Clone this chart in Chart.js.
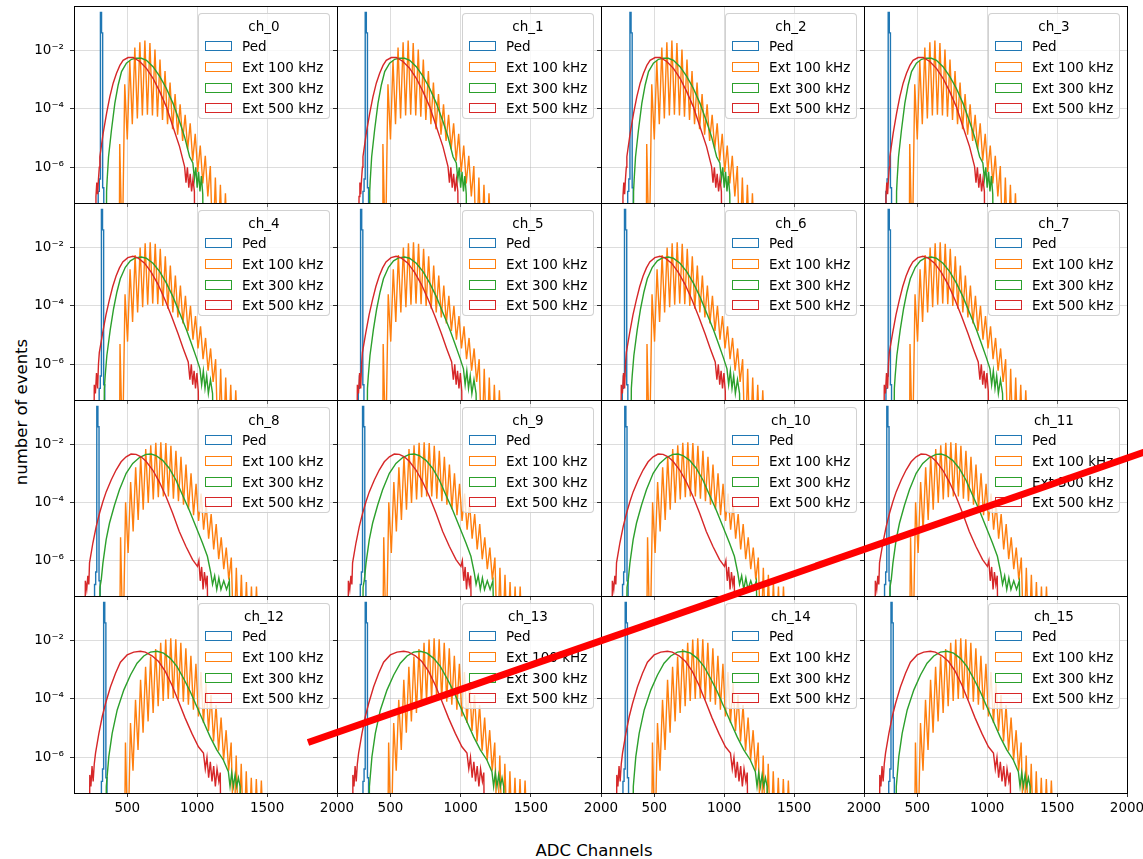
<!DOCTYPE html>
<html>
<head>
<meta charset="utf-8">
<title>ADC spectra per channel</title>
<script src="https://cdn.jsdelivr.net/npm/chart.js@4.4.1/dist/chart.umd.min.js"></script>
<style>
  body { margin: 0; background: #fff; }
  #figure { position: relative; width: 1143px; height: 859px; overflow: hidden; font-family: 'DejaVu Sans', sans-serif; color: #000; }
  #figure canvas { position: absolute; }
  .legend { position: absolute; width: 132px; height: 106px; box-sizing: border-box; border: 1px solid rgba(204,204,204,0.9); border-radius: 4px; background: rgba(255,255,255,0.8); font-size: 13.5px; }
  .legend .title { position: absolute; left: 0; right: 0; top: 4px; line-height: 16px; text-align: center; }
  .legend .item { position: absolute; left: 6px; height: 16px; display: flex; align-items: center; white-space: nowrap; }
  .legend .patch { width: 27px; height: 10px; box-sizing: border-box; border: 1.4px solid; margin-right: 10px; }
  .axis-label { position: absolute; font-size: 16.5px; white-space: nowrap; transform: translate(-50%, -50%); }
  #strike { position: absolute; left: 308px; top: 738.5px; width: 900px; height: 7px; background: #ff0000; transform-origin: 0 50%; transform: rotate(-19.15deg); z-index: 10; }
</style>
</head>
<body>
<div id="figure">
  <div class="axis-label" style="left:594px; top:850px;">ADC Channels</div>
  <div class="axis-label" style="left:21px; top:412px; transform: translate(-50%,-50%) rotate(-90deg);">number of events</div>
</div>
<script>
// axes
const xMin = 119, xMax = 2000;
const yMin = 6.0e-8, yMax = 0.334;
const xTicks = [500, 1000, 1500, 2000];
const yTicks = [1e-6, 1e-4, 1e-2];
const yTickLabels = ['10⁻⁶', '10⁻⁴', '10⁻²'];

const channels = ['ch_0', 'ch_1', 'ch_2', 'ch_3', 'ch_4', 'ch_5', 'ch_6', 'ch_7',
                  'ch_8', 'ch_9', 'ch_10', 'ch_11', 'ch_12', 'ch_13', 'ch_14', 'ch_15'];
const seriesNames = ['Ped', 'Ext 100 kHz', 'Ext 300 kHz', 'Ext 500 kHz'];

// pedestal: first bin of the peak per channel, and bin contents around it
const pedStart = [316, 328, 334, 300, 323, 295, 295, 300, 290, 309, 297, 290, 339, 328, 300, 320];
const pedShape = [[-24, 1e-12], [-16, 1.5e-7], [-8, 4e-7], [0, 0.2], [8, 0.04], [16, 2e-7], [24, 1e-12]];

// Ext 500 kHz, one array per row of the grid [ADC, fraction]
const redRow1 = [[270,1e-12],[276,1e-7],[282,3e-7],[288,1.2e-7],[294,4e-7],[300,1e-6],[304,2.3e-6],[328,1.5e-5],[352,7e-5],[375,2.6e-4],[399,7.6e-4],[423,1.66e-3],[447,3.1e-3],[470,4.6e-3],[506,5.75e-3],[542,5.75e-3],[589,4.2e-3],[637,2.45e-3],[684,1.12e-3],[732,3.9e-4],[779,1.2e-4],[827,2.45e-5],[874,5.1e-6],[910,1.05e-6],[920,3e-7],[930,1e-6],[940,2e-7],[950,6e-7],[960,1.5e-7],[970,4e-7],[980,1.5e-7],[988,1e-12]];
const redRow2 = [[258,1e-12],[264,2e-7],[272,1e-7],[280,5e-7],[288,1.5e-7],[294,1e-6],[300,2.5e-6],[324,1.2e-5],[348,5e-5],[372,1.6e-4],[396,4.6e-4],[420,1.05e-3],[444,2e-3],[468,3.2e-3],[504,4.5e-3],[540,5e-3],[576,4.4e-3],[624,2.9e-3],[672,1.4e-3],[720,5.5e-4],[768,1.7e-4],[816,4.5e-5],[864,1.1e-5],[900,3.5e-6],[936,1.2e-6],[948,3e-7],[958,1e-6],[968,2e-7],[978,6e-7],[988,1.5e-7],[998,5e-7],[1008,1.2e-7],[1016,1e-12]];
const redRow3 = [[195,1e-12],[200,2e-7],[210,1e-7],[218,3e-7],[225,1.5e-7],[230,8.3e-7],[254,4e-6],[278,1.5e-5],[302,4.3e-5],[326,1.07e-4],[349,2.3e-4],[385,5.9e-4],[420,1.3e-3],[456,2.5e-3],[492,3.7e-3],[527,4.6e-3],[563,4.5e-3],[599,3.7e-3],[634,2.6e-3],[682,1.3e-3],[729,5.1e-4],[777,1.6e-4],[824,4.3e-5],[872,1e-5],[919,3.1e-6],[967,1.07e-6],[1002,6.3e-7],[1012,1e-6],[1022,2e-7],[1032,6e-7],[1042,1e-7],[1052,4e-7],[1062,1.5e-7],[1072,3e-7],[1085,1e-12]];
const redRow4 = [[226,1e-12],[232,2.5e-7],[240,1e-7],[248,5e-7],[256,1.5e-7],[264,6e-7],[273,1.4e-6],[297,6.6e-6],[321,2.5e-5],[345,7.1e-5],[380,2.6e-4],[416,7.6e-4],[451,1.8e-3],[499,3.2e-3],[546,4e-3],[594,4.3e-3],[629,4e-3],[677,3e-3],[724,1.9e-3],[772,8.7e-4],[819,3e-4],[867,8.1e-5],[914,2.2e-5],[962,6.6e-6],[1009,2.3e-6],[1045,1.4e-6],[1058,4e-7],[1070,1e-6],[1082,2e-7],[1094,7e-7],[1106,1.5e-7],[1118,5e-7],[1130,1e-7],[1142,4e-7],[1155,1.5e-7],[1165,3e-7],[1176,1e-12]];

// Ext 300 kHz
const greenRow1 = [[347,1e-12],[352,1.5e-7],[356,3.7e-7],[366,2.3e-6],[387,1.9e-5],[411,1.55e-4],[435,6.6e-4],[459,1.9e-3],[494,3.7e-3],[530,5e-3],[565,5.5e-3],[601,5.4e-3],[637,4.6e-3],[684,2.8e-3],[732,1.3e-3],[779,5.1e-4],[827,1.55e-4],[874,3.7e-5],[910,1.1e-5],[946,2.3e-6],[969,1.4e-6],[980,4e-7],[990,1e-6],[1000,2e-7],[1010,7e-7],[1020,1.5e-7],[1030,5e-7],[1040,1.2e-7],[1048,1e-12]];
const greenRow2 = [[330,1e-12],[336,1.5e-7],[342,4e-7],[354,2e-6],[378,1.5e-5],[402,8e-5],[426,3e-4],[450,8.5e-4],[486,2.1e-3],[522,3.5e-3],[558,4.4e-3],[600,4.7e-3],[636,4.3e-3],[684,2.9e-3],[732,1.5e-3],[780,6e-4],[828,2e-4],[876,5.5e-5],[924,1.5e-5],[960,5e-6],[996,1.6e-6],[1020,7e-7],[1032,2e-7],[1044,6e-7],[1056,1.5e-7],[1068,4e-7],[1080,1e-7],[1095,3e-7],[1110,1e-7],[1123,1e-12]];
const greenRow3 = [[297,1e-12],[305,1.2e-7],[314,2.2e-7],[326,8.3e-7],[349,5.2e-6],[373,1.95e-5],[409,8.1e-5],[444,2.7e-4],[492,1e-3],[539,2.2e-3],[587,3.5e-3],[634,4.5e-3],[670,4.6e-3],[705,4.1e-3],[753,2.8e-3],[800,1.5e-3],[848,5.9e-4],[895,1.8e-4],[943,5.5e-5],[990,1.5e-5],[1038,4e-6],[1073,1.4e-6],[1097,3.8e-7],[1110,1.5e-7],[1125,3e-7],[1140,1e-7],[1155,2.5e-7],[1170,1e-7],[1190,2e-7],[1210,1e-7],[1230,2e-7],[1251,1e-12]];
const greenRow4 = [[345,1e-12],[350,1e-7],[356,2.2e-7],[368,1.05e-6],[392,6.6e-6],[428,4.2e-5],[475,2e-4],[523,6.6e-4],[570,1.66e-3],[618,2.95e-3],[665,4e-3],[713,4.3e-3],[760,3.7e-3],[808,2.45e-3],[855,1.3e-3],[902,5.1e-4],[950,1.8e-4],[997,5.5e-5],[1045,1.66e-5],[1092,5.1e-6],[1140,1.8e-6],[1187,8.1e-7],[1223,3.2e-7],[1235,1e-7],[1247,3e-7],[1259,1e-7],[1271,2.5e-7],[1283,1e-7],[1295,2e-7],[1307,1e-7],[1318,1e-12]];

// Ext 100 kHz: comb, tops and bottoms of each tooth
const orangePeaksRow1 = [[446,6.3e-6],[482,7e-4],[518,4.5e-3],[554,1.26e-2],[590,1.9e-2],[626,2.2e-2],[662,1.8e-2],[698,1.07e-2],[734,4.9e-3],[770,2e-3],[806,8e-4],[842,3.2e-4],[878,1.45e-4],[914,6.3e-5],[950,3.2e-5],[986,1.4e-5],[1022,5.6e-6],[1058,2.5e-6],[1094,1.1e-6],[1130,4.5e-7],[1166,2.5e-7],[1202,1.3e-7]];
const orangeDipsRow1 = [[440,1e-12],[464,1e-9],[500,9e-6],[536,3e-5],[572,4.7e-5],[608,5.9e-5],[644,6.3e-5],[680,6e-5],[716,5.4e-5],[752,4.2e-5],[788,3e-5],[824,2e-5],[860,1.3e-5],[896,8e-6],[932,4.2e-6],[968,1.7e-6],[1004,7e-7],[1040,2.8e-7],[1076,1e-7],[1112,1e-9],[1148,1e-9],[1184,1e-9],[1220,1e-9]];
const orangePeaksRow2 = [[448,5e-6],[484,2.5e-4],[520,1.8e-3],[556,5.5e-3],[592,1e-2],[628,1.4e-2],[664,1.5e-2],[700,1.35e-2],[736,9e-3],[772,5e-3],[808,2.4e-3],[844,1.1e-3],[880,5e-4],[916,2.2e-4],[952,1e-4],[988,4.5e-5],[1024,2e-5],[1060,8e-6],[1096,3.5e-6],[1132,1.5e-6],[1168,7e-7],[1204,3.5e-7],[1240,2e-7],[1276,1.3e-7]];
const orangeDipsRow2 = [[442,1e-12],[466,1e-9],[502,6e-6],[538,2.8e-5],[574,6e-5],[610,9e-5],[646,1.1e-4],[682,1.2e-4],[718,1.15e-4],[754,1e-4],[790,8e-5],[826,6e-5],[862,4e-5],[898,2.5e-5],[934,1.4e-5],[970,7e-6],[1006,3.5e-6],[1042,1.5e-6],[1078,6e-7],[1114,2.5e-7],[1150,1e-9],[1186,1e-9],[1222,1e-9],[1258,1e-9],[1294,1e-9]];
const orangePeaksRow3 = [[452,6.3e-6],[488,1e-4],[524,5e-4],[560,1.6e-3],[596,3.8e-3],[632,6.8e-3],[668,9.3e-3],[704,1.12e-2],[740,1.17e-2],[776,1.1e-2],[812,8.9e-3],[848,6e-3],[884,3.7e-3],[920,2e-3],[956,1e-3],[992,4.4e-4],[1028,2e-4],[1064,8.9e-5],[1100,4e-5],[1136,1.8e-5],[1172,6.3e-6],[1208,2.8e-6],[1244,1.26e-6],[1280,5.6e-7],[1316,3.2e-7],[1352,1.8e-7],[1388,1.26e-7],[1424,1.26e-7]];
const orangeDipsRow3 = [[440,1e-12],[470,1e-9],[506,1.8e-6],[542,1e-5],[578,2.5e-5],[614,5.6e-5],[650,9.5e-5],[686,1.26e-4],[722,1.5e-4],[758,1.6e-4],[794,1.6e-4],[830,1.35e-4],[866,1.1e-4],[902,8.3e-5],[938,5.8e-5],[974,3.6e-5],[1010,2.3e-5],[1046,1.15e-5],[1082,5.6e-6],[1118,2.4e-6],[1154,1.1e-6],[1190,5e-7],[1226,2.2e-7],[1262,1e-9],[1298,1e-9],[1334,1e-9],[1370,1e-9],[1406,1e-9],[1442,1e-9]];
const orangePeaksRow4 = [[487,3.2e-6],[523,1.5e-5],[559,9.3e-5],[595,4.5e-4],[631,1.26e-3],[667,2.8e-3],[703,5.1e-3],[739,8.3e-3],[775,1.07e-2],[811,1.2e-2],[847,1.1e-2],[883,8.3e-3],[919,5.4e-3],[955,3e-3],[991,1.6e-3],[1027,8.3e-4],[1063,3.5e-4],[1099,1.35e-4],[1135,6.2e-5],[1171,2.3e-5],[1207,8.5e-6],[1243,3.2e-6],[1279,1.15e-6],[1315,6e-7],[1351,3.3e-7],[1387,2e-7],[1423,1.8e-7],[1459,1.6e-7]];
const orangeDipsRow4 = [[475,1e-12],[505,1e-9],[541,3.5e-7],[577,1.8e-6],[613,7e-6],[649,1.7e-5],[685,3.3e-5],[721,5.6e-5],[757,8.5e-5],[793,1e-4],[829,1.05e-4],[865,9.5e-5],[901,8e-5],[937,6.3e-5],[973,4.3e-5],[1009,2.5e-5],[1045,1.5e-5],[1081,8e-6],[1117,3.5e-6],[1153,1.7e-6],[1189,8e-7],[1225,3.5e-7],[1261,1e-9],[1297,1e-9],[1333,1e-9],[1369,1e-9],[1405,1e-9],[1441,1e-9],[1477,1e-9]];

const redRows = [redRow1, redRow2, redRow3, redRow4];
const greenRows = [greenRow1, greenRow2, greenRow3, greenRow4];
const orangePeakRows = [orangePeaksRow1, orangePeaksRow2, orangePeaksRow3, orangePeaksRow4];
const orangeDipRows = [orangeDipsRow1, orangeDipsRow2, orangeDipsRow3, orangeDipsRow4];

// layout of the 4x4 grid (pixels)
const colLeft = [74, 337, 601, 864];
const colWidth = [263, 264, 263, 263];
const rowTop = [6, 203, 400, 596];
const rowHeight = [197, 197, 196, 197];
const colors = ['#1f77b4', '#ff7f0e', '#2ca02c', '#d62728'];
const gridColor = 'rgba(176,176,176,0.55)';

const figure = document.getElementById('figure');

const framePlugin = {
    id: 'frame',
    afterDraw(chart) {
        const a = chart.chartArea;
        const ctx = chart.ctx;
        ctx.save();
        ctx.strokeStyle = '#000';
        ctx.lineWidth = 1;
        ctx.strokeRect(a.left + 0.5, a.top + 0.5, a.right - a.left, a.bottom - a.top);
        ctx.restore();
    }
};

function toPoints(pairs) {
    return pairs.map(p => ({ x: p[0], y: p[1] }));
}

function createPanel(ch) {
    const row = Math.floor(ch / 4);
    const col = ch % 4;
    const padL = col === 0 ? 74 : 6;
    const padB = row === 3 ? 36 : 6;
    const padT = 2, padR = 24;

    const canvas = document.createElement('canvas');
    canvas.width = padL + colWidth[col] + padR;
    canvas.height = padT + rowHeight[row] + padB;
    canvas.style.left = (colLeft[col] - padL) + 'px';
    canvas.style.top = (rowTop[row] - padT) + 'px';
    figure.appendChild(canvas);

    const comb = orangePeakRows[row].concat(orangeDipRows[row]).sort((a, b) => a[0] - b[0]);
    const ped = pedShape.map(p => [pedStart[ch] + p[0], p[1]]);

    new Chart(canvas, {
        type: 'line',
        data: {
            datasets: [
                { label: seriesNames[0], data: toPoints(ped), borderColor: colors[0], stepped: 'after', order: 3 },
                { label: seriesNames[1], data: toPoints(comb), borderColor: colors[1], order: 2 },
                { label: seriesNames[2], data: toPoints(greenRows[row]), borderColor: colors[2], order: 1 },
                { label: seriesNames[3], data: toPoints(redRows[row]), borderColor: colors[3], order: 0 }
            ]
        },
        options: {
            responsive: false,
            animation: false,
            devicePixelRatio: 1,
            events: [],
            layout: { autoPadding: false, padding: { left: 0, right: padR, top: padT, bottom: 0 } },
            plugins: { legend: { display: false }, tooltip: { enabled: false } },
            elements: { point: { radius: 0 }, line: { borderWidth: 1.4, tension: 0, fill: false } },
            scales: {
                x: {
                    type: 'linear', min: xMin, max: xMax,
                    afterBuildTicks: s => { s.ticks = xTicks.map(v => ({ value: v })); },
                    afterFit: s => { s.height = padB; s.paddingLeft = 0; s.paddingRight = 0; },
                    ticks: { display: row === 3, autoSkip: false, maxRotation: 0, padding: 3, color: '#000',
                             font: { family: 'DejaVu Sans', size: 13.5 }, callback: v => String(v) },
                    grid: { color: gridColor, lineWidth: 0.8, tickLength: 4, tickColor: '#000', tickWidth: 0.8 },
                    border: { display: false }
                },
                y: {
                    type: 'logarithmic', min: yMin, max: yMax,
                    afterBuildTicks: s => { s.ticks = yTicks.map(v => ({ value: v })); },
                    afterFit: s => { s.width = padL; s.paddingTop = 0; s.paddingBottom = 0; },
                    ticks: { display: col === 0, autoSkip: false, padding: 6, color: '#000',
                             font: { family: 'DejaVu Sans', size: 13.5 },
                             callback: v => { const i = yTicks.indexOf(v); return i >= 0 ? yTickLabels[i] : ''; } },
                    grid: { color: gridColor, lineWidth: 0.8, tickLength: 4, tickColor: '#000', tickWidth: 0.8 },
                    border: { display: false }
                }
            }
        },
        plugins: [framePlugin]
    });

    // legend box (upper right, like the original)
    const legend = document.createElement('div');
    legend.className = 'legend';
    legend.style.left = (colLeft[col] + colWidth[col] - 7 - 132) + 'px';
    legend.style.top = (rowTop[row] + 7) + 'px';
    let html = '<div class="title">' + channels[ch] + '</div>';
    const itemTops = [24, 45, 66, 86];
    seriesNames.forEach((name, i) => {
        html += '<div class="item" style="top:' + itemTops[i] + 'px"><span class="patch" style="border-color:' +
                colors[i] + '"></span>' + name + '</div>';
    });
    legend.innerHTML = html;
    figure.appendChild(legend);
}

window.addEventListener('load', function() {
    if (typeof Chart === 'undefined') {
        console.error('Chart.js not available');
        return;
    }
    Chart.defaults.font.family = "'DejaVu Sans', sans-serif";
    for (let ch = 0; ch < channels.length; ch++) {
        createPanel(ch);
    }
    // hand-drawn red stroke across the lower right of the figure
    const strike = document.createElement('div');
    strike.id = 'strike';
    figure.appendChild(strike);
    console.log('panels created');
});
</script>
</body>
</html>
